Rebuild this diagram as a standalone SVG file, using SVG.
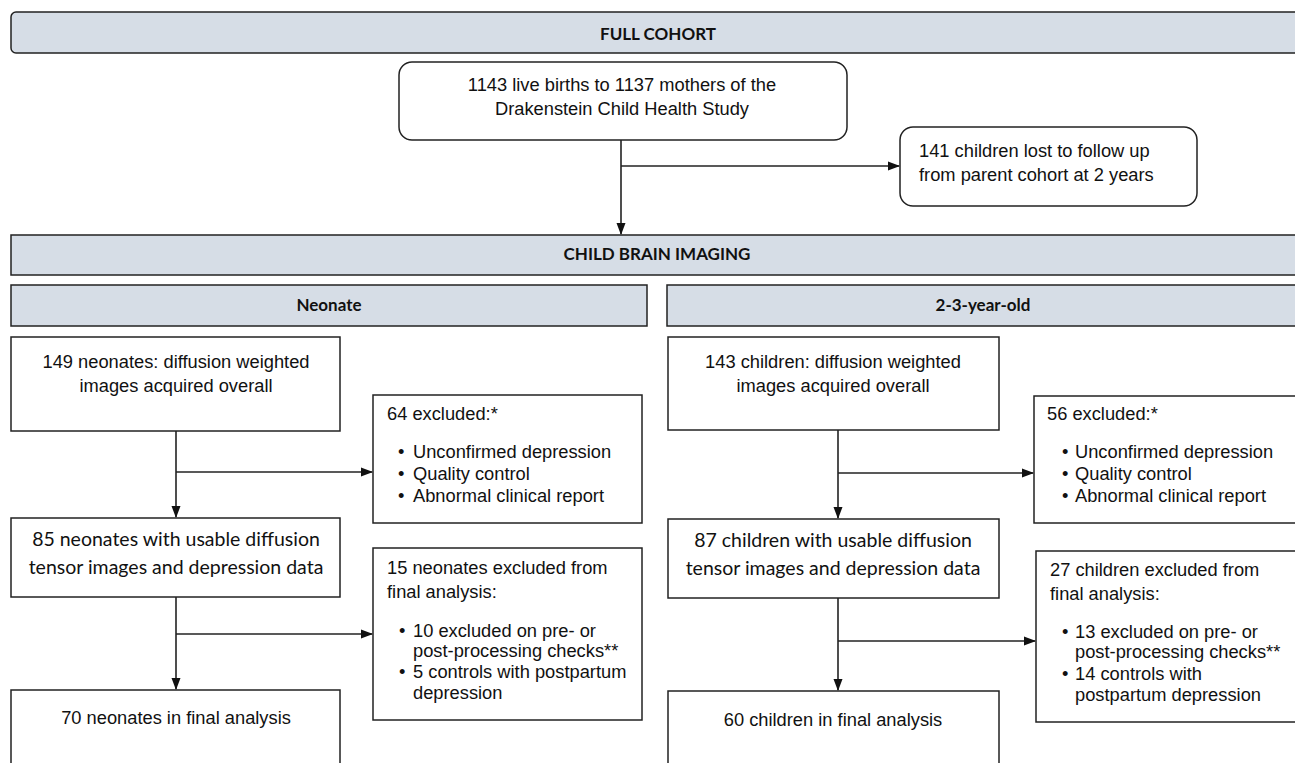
<svg xmlns="http://www.w3.org/2000/svg" width="1295" height="763" viewBox="0 0 1295 763">
<style>
.bar{fill:#d6dde6;stroke:#222;stroke-width:1.5}
.box{fill:#fff;stroke:#222;stroke-width:1.5}
.hd{font-family:Lato,"Liberation Sans",sans-serif;font-weight:bold;font-size:17px;fill:#111;text-anchor:middle}
.t{font-family:"Liberation Sans",Arial,sans-serif;font-size:18.3px;fill:#111}
.c{text-anchor:middle}
.tl{font-family:Lato,"Liberation Sans",sans-serif;font-size:19.5px;fill:#111;text-anchor:middle}
.ln{fill:none;stroke:#222;stroke-width:1.6}
</style>
<defs>
<marker id="ah" markerWidth="12" markerHeight="10" refX="11" refY="5" orient="auto" markerUnits="userSpaceOnUse">
<path d="M0,0.5 L12,5 L0,9.5 Z" fill="#111"/>
</marker>
</defs>
<g id="full-cohort"><rect class="bar" x="11" y="12" width="1295" height="41" rx="5"/><text class="hd" x="658" y="40">FULL COHORT</text></g>
<g id="births"><rect class="box" x="399" y="62" width="448" height="78" rx="13"/>
<text class="t c" x="622" y="90.5">1143 live births to 1137 mothers of the</text>
<text class="t c" x="622" y="114.5">Drakenstein Child Health Study</text></g>
<g id="lost"><rect class="box" x="900" y="127" width="297" height="79" rx="13"/>
<text class="t" x="919" y="156.5">141 children lost to follow up</text>
<text class="t" x="919" y="180.5">from parent cohort at 2 years</text></g>
<g id="child-brain"><rect class="bar" x="11" y="235" width="1295" height="40"/><text class="hd" x="657" y="260">CHILD BRAIN IMAGING</text></g>
<g id="neonate"><rect class="bar" x="11" y="285" width="636" height="41"/><text class="hd" x="329" y="311">Neonate</text></g>
<g id="toddler"><rect class="bar" x="667" y="285" width="640" height="41"/><text class="hd" x="983" y="311">2-3-year-old</text></g>
<g id="n149"><rect class="box" x="11" y="337" width="329" height="94"/>
<text class="t c" x="176" y="367.5">149 neonates: diffusion weighted</text>
<text class="t c" x="176" y="391.5">images acquired overall</text></g>
<g id="n64"><rect class="box" x="373" y="395" width="269" height="128"/>
<text class="t" x="387" y="419.5">64 excluded:*</text>
<text class="t" x="398" y="457.5">•</text><text class="t" x="413" y="457.5">Unconfirmed depression</text>
<text class="t" x="398" y="479.5">•</text><text class="t" x="413" y="479.5">Quality control</text>
<text class="t" x="398" y="501.5">•</text><text class="t" x="413" y="501.5">Abnormal clinical report</text></g>
<g id="n85"><rect class="box" x="11" y="518" width="329" height="79"/>
<text class="tl" x="176" y="546">85 neonates with usable diffusion</text>
<text class="tl" x="176" y="574">tensor images and depression data</text></g>
<g id="n15"><rect class="box" x="373" y="548" width="269" height="172"/>
<text class="t" x="387" y="573.5">15 neonates excluded from</text>
<text class="t" x="387" y="597.5">final analysis:</text>
<text class="t" x="399" y="636.5">•</text><text class="t" x="413" y="636.5">10 excluded on pre- or</text>
<text class="t" x="413" y="656.5">post-processing checks**</text>
<text class="t" x="399" y="677.5">•</text><text class="t" x="413" y="677.5">5 controls with postpartum</text>
<text class="t" x="413" y="698.5">depression</text></g>
<g id="n70"><rect class="box" x="11" y="690" width="329" height="90"/>
<text class="t c" x="176" y="723.5">70 neonates in final analysis</text></g>
<g id="c143"><rect class="box" x="668" y="337" width="331" height="93"/>
<text class="t c" x="833" y="367.5">143 children: diffusion weighted</text>
<text class="t c" x="833" y="391.5">images acquired overall</text></g>
<g id="c56"><rect class="box" x="1034" y="396" width="280" height="127"/>
<text class="t" x="1047" y="419.5">56 excluded:*</text>
<text class="t" x="1062" y="457.5">•</text><text class="t" x="1075" y="457.5">Unconfirmed depression</text>
<text class="t" x="1062" y="479.5">•</text><text class="t" x="1075" y="479.5">Quality control</text>
<text class="t" x="1062" y="501.5">•</text><text class="t" x="1075" y="501.5">Abnormal clinical report</text></g>
<g id="c87"><rect class="box" x="668" y="519" width="331" height="79"/>
<text class="tl" x="833" y="547">87 children with usable diffusion</text>
<text class="tl" x="833" y="575">tensor images and depression data</text></g>
<g id="c27"><rect class="box" x="1036" y="551" width="280" height="171"/>
<text class="t" x="1050" y="575.5">27 children excluded from</text>
<text class="t" x="1050" y="599.5">final analysis:</text>
<text class="t" x="1062" y="637.5">•</text><text class="t" x="1075" y="637.5">13 excluded on pre- or</text>
<text class="t" x="1075" y="657.5">post-processing checks**</text>
<text class="t" x="1062" y="679.5">•</text><text class="t" x="1075" y="679.5">14 controls with</text>
<text class="t" x="1075" y="700.5">postpartum depression</text></g>
<g id="c60"><rect class="box" x="668" y="691" width="331" height="90"/>
<text class="t c" x="833" y="725.5">60 children in final analysis</text></g>
<g id="connectors">
<path class="ln" d="M621,140 V234" marker-end="url(#ah)"/>
<path class="ln" d="M621,166 H899" marker-end="url(#ah)"/>
<path class="ln" d="M176,431 V517" marker-end="url(#ah)"/>
<path class="ln" d="M176,472 H372" marker-end="url(#ah)"/>
<path class="ln" d="M176,597 V689" marker-end="url(#ah)"/>
<path class="ln" d="M176,634 H372" marker-end="url(#ah)"/>
<path class="ln" d="M838,430 V518" marker-end="url(#ah)"/>
<path class="ln" d="M838,473 H1033" marker-end="url(#ah)"/>
<path class="ln" d="M838,598 V690" marker-end="url(#ah)"/>
<path class="ln" d="M838,641 H1035" marker-end="url(#ah)"/>
</g>
</svg>
